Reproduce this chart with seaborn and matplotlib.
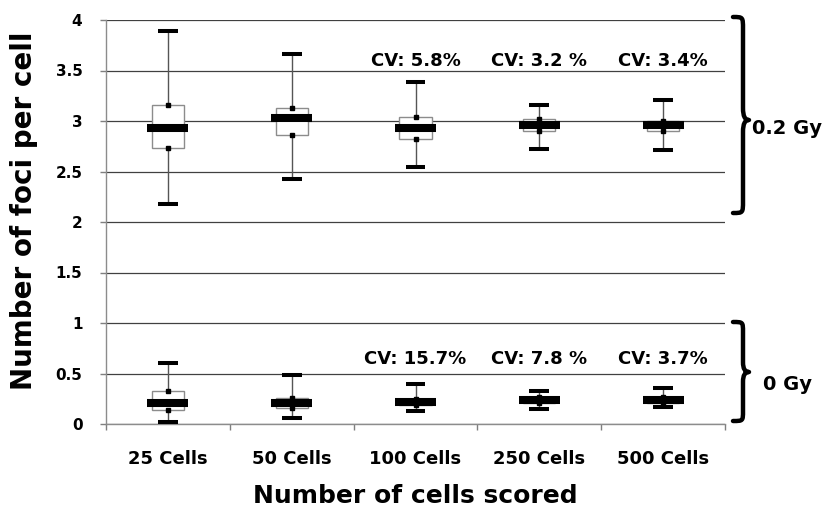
import numpy as np
import pandas as pd
import matplotlib
matplotlib.use("Agg")
import matplotlib.pyplot as plt
from matplotlib.path import Path
from matplotlib.patches import PathPatch
import seaborn as sns

# ---------------- data ----------------
categories = ["25 Cells", "50 Cells", "100 Cells", "250 Cells", "500 Cells"]

# 0.2 Gy five-number summaries
hi_min = [2.18, 2.43, 2.54, 2.72, 2.71]
hi_q1 = [2.73, 2.86, 2.82, 2.90, 2.90]
hi_med = [2.93, 3.03, 2.93, 2.96, 2.96]
hi_q3 = [3.16, 3.13, 3.04, 3.02, 3.00]
hi_max = [3.89, 3.66, 3.39, 3.16, 3.21]

# 0 Gy five-number summaries
lo_min = [0.02, 0.055, 0.13, 0.15, 0.17]
lo_q1 = [0.14, 0.16, 0.19, 0.21, 0.21]
lo_med = [0.21, 0.21, 0.22, 0.24, 0.24]
lo_q3 = [0.33, 0.26, 0.25, 0.27, 0.27]
lo_max = [0.60, 0.49, 0.40, 0.33, 0.36]

cv_cats = ["100 Cells", "250 Cells", "500 Cells"]
cv_hi = ["CV: 5.8%", "CV: 3.2 %", "CV: 3.4%"]
cv_lo = ["CV: 15.7%", "CV: 7.8 %", "CV: 3.7%"]
cv_hi_y = 3.59
cv_lo_y = 0.64

y_ticks = [0, 0.5, 1, 1.5, 2, 2.5, 3, 3.5, 4]
y_tick_labels = ["0", "0.5", "1", "1.5", "2", "2.5", "3", "3.5", "4"]

group_labels = ["0.2 Gy", "0 Gy"]


def five_num_frame(mins, q1s, meds, q3s, maxs):
    rows = []
    for c, a, b, m, d, e in zip(categories, mins, q1s, meds, q3s, maxs):
        for v in (a, b, m, d, e):
            rows.append({"cells": c, "foci": v})
    return pd.DataFrame(rows)


df_hi = five_num_frame(hi_min, hi_q1, hi_med, hi_q3, hi_max)
df_lo = five_num_frame(lo_min, lo_q1, lo_med, lo_q3, lo_max)

# ---------------- style ----------------
sns.set_style("white")
plt.rcParams["font.family"] = ["DejaVu Sans"]
plt.rcParams["font.weight"] = "bold"
plt.rcParams["text.color"] = "black"
plt.rcParams["axes.labelcolor"] = "black"
plt.rcParams["xtick.color"] = "black"
plt.rcParams["ytick.color"] = "black"

W, H = 832, 514
fig = plt.figure(figsize=(W / 100, H / 100), dpi=100)
ax = fig.add_axes([106 / W, 1 - 424 / H, (725 - 106) / W, (424 - 20) / H])

box_kw = dict(
    x="cells", y="foci", order=categories, whis=(0, 100), width=0.26,
    color="white", saturation=1, linewidth=1, showcaps=False, fliersize=0,
    boxprops={"edgecolor": "#8c8c8c", "facecolor": "white", "zorder": 3},
    whiskerprops={"color": "#555555", "linewidth": 1, "zorder": 2.5},
    medianprops={"visible": False},
    ax=ax,
)
sns.boxplot(data=df_hi, **box_kw)
sns.boxplot(data=df_lo, **box_kw)

pos = np.arange(len(categories))
for mins, q1s, meds, q3s, maxs in [(hi_min, hi_q1, hi_med, hi_q3, hi_max),
                                   (lo_min, lo_q1, lo_med, lo_q3, lo_max)]:
    # caps
    ax.hlines(mins, pos - 0.08, pos + 0.08, colors="black", linewidth=2.9,
              capstyle="butt", zorder=4)
    ax.hlines(maxs, pos - 0.08, pos + 0.08, colors="black", linewidth=2.9,
              capstyle="butt", zorder=4)
    # quartile markers
    ax.plot(pos, q1s, "s", color="black", markersize=3.2, zorder=5, linestyle="none")
    ax.plot(pos, q3s, "s", color="black", markersize=3.2, zorder=5, linestyle="none")
    # median bars
    ax.hlines(meds, pos - 0.165, pos + 0.165, colors="black", linewidth=5.8,
              capstyle="butt", zorder=6)

# CV labels
for c, t in zip(cv_cats, cv_hi):
    ax.text(categories.index(c), cv_hi_y, t, ha="center", va="center",
            fontsize=13, fontweight="bold", color="black")
for c, t in zip(cv_cats, cv_lo):
    ax.text(categories.index(c), cv_lo_y, t, ha="center", va="center",
            fontsize=13, fontweight="bold", color="black")

# axes styling
ax.set_xlim(-0.5, len(categories) - 0.5)
ax.set_ylim(0, 4)
ax.set_yticks(y_ticks)
ax.set_yticklabels(y_tick_labels)
ax.set_xticks(pos)
ax.set_xticklabels(categories)
ax.set_xticks(np.arange(len(categories) + 1) - 0.5, minor=True)
ax.tick_params(axis="x", which="major", bottom=True, length=0, pad=18.5,
               labelsize=13, labelcolor="black")
ax.tick_params(axis="x", which="minor", bottom=True, length=4, width=1,
               color="#7f7f7f", direction="out")
ax.tick_params(axis="y", which="major", left=True, length=4, width=1,
               color="#7f7f7f", direction="out", pad=13, labelsize=11,
               labelcolor="black")
for lab in ax.get_xticklabels() + ax.get_yticklabels():
    lab.set_fontweight("bold")

ax.yaxis.grid(True, color="#404040", linewidth=0.9)
ax.xaxis.grid(False)
ax.set_axisbelow(True)
for s in ["top", "right"]:
    ax.spines[s].set_visible(False)
for s in ["left", "bottom"]:
    ax.spines[s].set_color("#8c8c8c")
    ax.spines[s].set_linewidth(1)

ax.set_xlabel("Number of cells scored", fontsize=18, fontweight="bold",
              va="center", color="black")
ax.xaxis.set_label_coords(0.5, (424 - 496) / 404)
ax.set_ylabel("Number of foci per cell", fontsize=20, fontweight="bold",
              va="center", color="black")
ax.yaxis.set_label_coords((24 - 106) / 619, (424 - 211) / 404)


# braces (decoration, in figure pixel space)
def brace(x0, ytop, ybot, ymid, w=16, spine=10, r=12):
    def p(x, y):
        return (x / W, 1 - y / H)
    xs = x0 + spine
    verts = [
        p(x0, ytop),
        p(xs, ytop), p(xs, ytop), p(xs, ytop + r),
        p(xs, ymid - r),
        p(xs, ymid - r * 0.3), p(xs + 2, ymid), p(x0 + w, ymid),
        p(xs + 2, ymid), p(xs, ymid + r * 0.3), p(xs, ymid + r),
        p(xs, ybot - r),
        p(xs, ybot), p(xs, ybot), p(x0, ybot),
    ]
    codes = [Path.MOVETO,
             Path.CURVE4, Path.CURVE4, Path.CURVE4,
             Path.LINETO,
             Path.CURVE4, Path.CURVE4, Path.CURVE4,
             Path.CURVE4, Path.CURVE4, Path.CURVE4,
             Path.LINETO,
             Path.CURVE4, Path.CURVE4, Path.CURVE4]
    patch = PathPatch(Path(verts, codes), fill=False, edgecolor="black",
                      linewidth=3.2, capstyle="round", joinstyle="round",
                      transform=fig.transFigure, clip_on=False)
    fig.add_artist(patch)


brace(733, 17, 213, 120)
brace(733, 322, 421, 372, r=10)

fig.text(752 / W, 1 - 128 / H, group_labels[0], ha="left", va="center",
         fontsize=14, fontweight="bold", color="black")
fig.text(763 / W, 1 - 385 / H, group_labels[1], ha="left", va="center",
         fontsize=14, fontweight="bold", color="black")

fig.savefig("out.png", dpi=100)
